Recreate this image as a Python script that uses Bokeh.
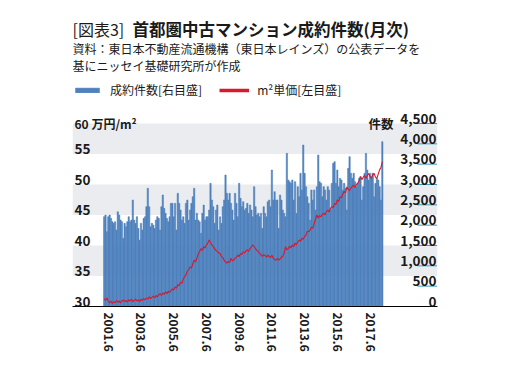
from bokeh.plotting import figure
from bokeh.models import (Range1d, FixedTicker, BoxAnnotation, Label, LabelSet,
                          ColumnDataSource, Legend, LegendItem)
from bokeh.core.properties import value
from bokeh.embed import file_html
from bokeh.resources import INLINE

# ---------------- data ----------------
# monthly contracts (件数, right axis), starting 2001.3
counts = [
    2209, 2250, 1840, 2209, 2250, 2168, 2086, 2045, 2086, 1881,
    2332, 2250, 2127, 2086, 1676, 2045, 1963, 2086, 2209, 2086,
    2127, 2619, 2127, 2045, 2209, 1922, 1635, 2045, 1881, 2168,
    2209, 2455, 2906, 2455, 1963, 2045, 2004, 1922, 2127, 2209,
    2168, 1881, 2455, 2742, 2414, 2291, 2168, 2086, 2209, 2537,
    2537, 2209, 2537, 1881, 2783, 2537, 2373, 2127, 2209, 2045,
    2537, 2619, 2127, 2373, 2537, 2701, 2906, 2127, 2291, 2127,
    2086, 1799, 2291, 2496, 2127, 2209, 2209, 2373, 3029, 2619,
    2455, 2045, 2373, 2496, 1881, 2209, 2045, 2455, 2619, 3234,
    2783, 2619, 2783, 2537, 2373, 2127, 2783, 2537, 2209, 3029,
    2660, 2455, 2578, 2373, 2414, 2537, 2291, 2496, 2373, 2209,
    2947, 2455, 2250, 2291, 2209, 2291, 1922, 2455, 2291, 2209,
    2578, 2619, 2455, 3357, 2619, 2824, 2619, 2619, 1922, 2742,
    2619, 2373, 2291, 2209, 3767, 3111, 3070, 3029, 3111, 2619,
    3070, 2291, 2947, 2701, 3275, 2865, 3972, 3275, 2947, 2701,
    2537, 2127, 2865, 2619, 2865, 2373, 2947, 3726, 3070, 3029,
    2701, 2947, 2865, 2619, 2947, 2865, 2373, 3029, 3521, 3562,
    3029, 3357, 2947, 3152, 3111, 2865, 3029, 2906, 2373, 3398,
    3685, 3275, 3152, 3275, 3070, 2947, 3029, 3152, 3193, 2619,
    2947, 3275, 3767, 3357, 3111, 3275, 3193, 3275, 2701, 3029,
    3152, 3111, 2947, 2619, 4054,
]
# price per m2 (万円/m², left axis)
prices = [
    31.3, 31.0, 31.4, 30.9, 30.6, 30.9, 30.5, 30.8, 30.6, 31.0, 30.7, 30.9,
    30.6, 30.9, 31.1, 30.8, 31.0, 30.7, 31.1, 30.9, 31.2, 30.8, 31.0, 31.2,
    30.9, 31.1, 30.8, 31.2, 31.0, 31.3, 31.1, 31.4, 31.2, 31.6, 31.3, 31.5,
    31.7, 31.4, 31.8, 31.6, 31.9, 32.1, 31.8, 32.2, 32.0, 32.4, 32.1, 32.5,
    32.3, 32.6,
    32.9, 32.7, 33.2, 33.0, 33.6, 33.4, 34.0, 33.8, 34.5, 34.9,
    35.2, 35.8, 36.0, 36.5, 36.3, 37.0, 37.6, 37.3, 37.9, 38.6,
    39.0, 39.5, 39.2, 39.8, 39.6, 40.1, 40.4, 40.9, 40.5, 40.1,
    39.8, 39.5, 39.2, 39.0, 38.8, 38.7, 38.2, 38.0, 37.6, 37.3,
    37.1, 37.4, 37.2, 37.9, 37.5, 37.6, 37.9, 38.1, 38.4, 38.2,
    38.7, 38.5, 39.0, 38.8, 39.1, 39.3, 39.0, 39.5, 39.8, 40.1,
    39.8, 39.5, 39.2, 39.0, 38.7, 38.5, 38.2, 38.5, 38.4, 38.1,
    38.4, 38.2, 38.0, 38.4, 37.9, 37.7, 37.6, 37.9, 37.6, 37.8,
    38.1, 38.2, 38.8, 39.8, 39.3, 39.5, 39.9, 39.6, 40.1, 39.8,
    40.4, 40.1, 40.6, 40.9, 40.7, 41.2, 41.0, 41.5, 41.7, 42.3,
    42.3, 42.5, 43.0, 42.8, 43.6, 44.3, 45.0, 44.5, 44.9, 44.7,
    45.1, 45.3, 45.0, 45.6, 45.8, 45.5, 46.1, 46.4, 46.2, 46.9,
    46.7, 47.5, 47.2, 48.0, 47.8, 48.4, 48.9, 48.6, 49.6, 49.2,
    49.0, 49.4, 49.7, 49.9, 49.5, 50.0, 50.2, 50.6, 51.3, 50.8,
    51.2, 51.5, 51.0, 51.5, 51.8, 51.3, 51.0, 51.6, 51.8, 51.2,
    51.0, 51.7, 52.4, 52.8, 53.7,
]
start_year, start_month = 2001, 3
xtick_labels = ["2001.6", "2003.6", "2005.6", "2007.6", "2009.6",
                "2011.6", "2013.6", "2015.6", "2017.6"]
left_ticks = [30, 35, 40, 45, 50, 55, 60]
right_ticks = [0, 500, 1000, 1500, 2000, 2500, 3000, 3500, 4000, 4500]
right_tick_labels = ["0", "500", "1,000", "1,500", "2,000", "2,500",
                     "3,000", "3,500", "4,000", "4,500"]
band_ranges = [(35, 40), (45, 50), (55, 60)]

title_tag = "[図表3]"
title_main = "首都圏中古マンション成約件数(月次)"
subtitle1 = "資料：東日本不動産流通機構（東日本レインズ）の公表データを"
subtitle2 = "基にニッセイ基礎研究所が作成"
legend_bar = "成約件数[右目盛]"
legend_line = "m²単価[左目盛]"
left_unit = "万円/m²"
right_unit = "件数"

# ---------------- layout & styling ----------------
JP = "Noto Sans CJK JP"
BLUE = "#4f81bd"
RED = "#d9182e"
BAND = "#eaecef"
TEAL = "#3c9db5"
INK = "#1a1a1a"

W, H = 491, 362
FRAME_L, FRAME_R_MARGIN, FRAME_B_MARGIN = 72, 54, 56
FRAME_W = W - FRAME_L - FRAME_R_MARGIN          # 365 px: whole chart block
FRAME_H = H - FRAME_B_MARGIN                     # 306 px: frame top at canvas top
PAD_L, PAD_R = 31, 54.5                          # label gutters left/right of the bars
PLOT_H = 183                                      # height of the 30..60 scale
TICK_LEN = 20                                     # teal underline length (px)

n = len(counts)
months = []
for k in range(n):
    m = start_month - 1 + k
    months.append(f"{start_year + m // 12}.{m % 12 + 1}")
x_idx = list(range(n))
xtick_pos = [months.index(t) for t in xtick_labels]

ppu_x = (FRAME_W - PAD_L - PAD_R) / n
x0 = -0.5 - PAD_L / ppu_x
x1 = n - 0.5 + PAD_R / ppu_x
y_lo, y_hi = left_ticks[0], left_ticks[-1]
y_top = y_lo + (y_hi - y_lo) * FRAME_H / PLOT_H
c_top = right_ticks[-1] * FRAME_H / PLOT_H

p = figure(width=W, height=H, x_range=Range1d(x0, x1), y_range=Range1d(y_lo, y_top),
           output_backend="svg", toolbar_location=None,
           min_border_left=FRAME_L, min_border_right=FRAME_R_MARGIN,
           min_border_top=0, min_border_bottom=FRAME_B_MARGIN)
p.extra_y_ranges = {"cnt": Range1d(0, c_top)}
p.grid.visible = False
p.outline_line_color = None
p.yaxis.visible = False

# background bands
for b, t in band_ranges:
    p.add_layout(BoxAnnotation(bottom=b, top=t, fill_color=BAND, fill_alpha=1.0,
                               line_color=None, level="underlay"))

src = ColumnDataSource(dict(x=x_idx, month=months, count=counts, price=prices))
bars = p.vbar(x="x", top="count", bottom=0, width=1.0, source=src, y_range_name="cnt",
              fill_color=BLUE, line_color=BLUE, line_width=0.5)
p.line(x="x", y="price", source=src, line_color=RED, line_width=1.1)
proxy = p.line(x=[x_idx[0]], y=[float("nan")], line_color=RED, line_width=3.5)

# right-hand tick underlines (count scale)
tick_src = ColumnDataSource(dict(y=right_ticks[1:]))
p.segment(x0=x1 - TICK_LEN / ppu_x, x1=x1 - 0.5 / ppu_x, y0="y", y1="y", source=tick_src,
          y_range_name="cnt", line_color=TEAL, line_width=1)

# bottom axis
xa = p.xaxis[0]
xa.ticker = FixedTicker(ticks=xtick_pos)
xa.major_label_overrides = {pos: lab for pos, lab in zip(xtick_pos, xtick_labels)}
xa.major_label_orientation = "vertical"
xa.major_label_text_font = JP
xa.major_label_text_font_size = "12px"
xa.major_label_text_font_style = "bold"
xa.major_label_text_color = INK
xa.major_tick_line_color = None
xa.major_tick_out = 0
xa.major_tick_in = 0
xa.minor_tick_line_color = None
xa.axis_line_color = "black"
xa.axis_line_width = 1.2
xa.major_label_standoff = 6

# tick labels
lsrc = ColumnDataSource(dict(y=left_ticks[:-1], text=[str(v) for v in left_ticks[:-1]]))
p.add_layout(LabelSet(x=2, x_units="screen", y="y", text="text", source=lsrc,
                      text_align="left", text_baseline="alphabetic",
                      text_font=value(JP), text_font_size="13.5px", text_font_style="bold",
                      text_color=INK))
rsrc = ColumnDataSource(dict(y=right_ticks, text=right_tick_labels))
p.add_layout(LabelSet(x=FRAME_W - 1, x_units="screen", y="y", y_range_name="cnt", text="text",
                      source=rsrc, text_align="right", text_baseline="alphabetic",
                      text_font=value(JP), text_font_size="13.5px", text_font_style="bold",
                      text_color=INK))
p.add_layout(Label(x=2, x_units="screen", y=y_hi, text=f"{y_hi} {left_unit}",
                   text_align="left", text_baseline="alphabetic", text_font=JP,
                   text_font_size="12px", text_font_style="bold", text_color=INK))
p.add_layout(Label(x=296, x_units="screen", y=y_hi, text=right_unit,
                   text_align="left", text_baseline="alphabetic", text_font=JP,
                   text_font_size="12.5px", text_font_style="bold", text_color=INK))

# title & subtitles (screen units measured up from the frame bottom)
p.add_layout(Label(x=0, y=FRAME_H - 28.5, x_units="screen", y_units="screen", text=title_tag,
                   text_baseline="middle", text_font=JP, text_font_size="16px",
                   text_color=INK))
p.add_layout(Label(x=60, y=FRAME_H - 28.5, x_units="screen", y_units="screen", text=title_main,
                   text_baseline="middle", text_font=JP, text_font_size="16.5px",
                   text_font_style="bold", text_color=INK))
p.add_layout(Label(x=0, y=FRAME_H - 47.5, x_units="screen", y_units="screen", text=subtitle1,
                   text_baseline="middle", text_font=JP, text_font_size="12px",
                   text_color=INK))
p.add_layout(Label(x=0, y=FRAME_H - 64.5, x_units="screen", y_units="screen", text=subtitle2,
                   text_baseline="middle", text_font=JP, text_font_size="12px",
                   text_color=INK))

leg = Legend(items=[LegendItem(label=legend_bar, renderers=[bars]),
                    LegendItem(label=legend_line, renderers=[proxy])],
             location=(0, FRAME_H - 98), orientation="horizontal", glyph_width=30,
             glyph_height=6, label_standoff=8, spacing=17, padding=0, margin=0,
             border_line_color=None, background_fill_alpha=0, label_text_font=JP,
             label_text_font_size="12px", label_text_color=INK)
p.add_layout(leg, "center")

open("out.html", "w").write(file_html(p, INLINE))
